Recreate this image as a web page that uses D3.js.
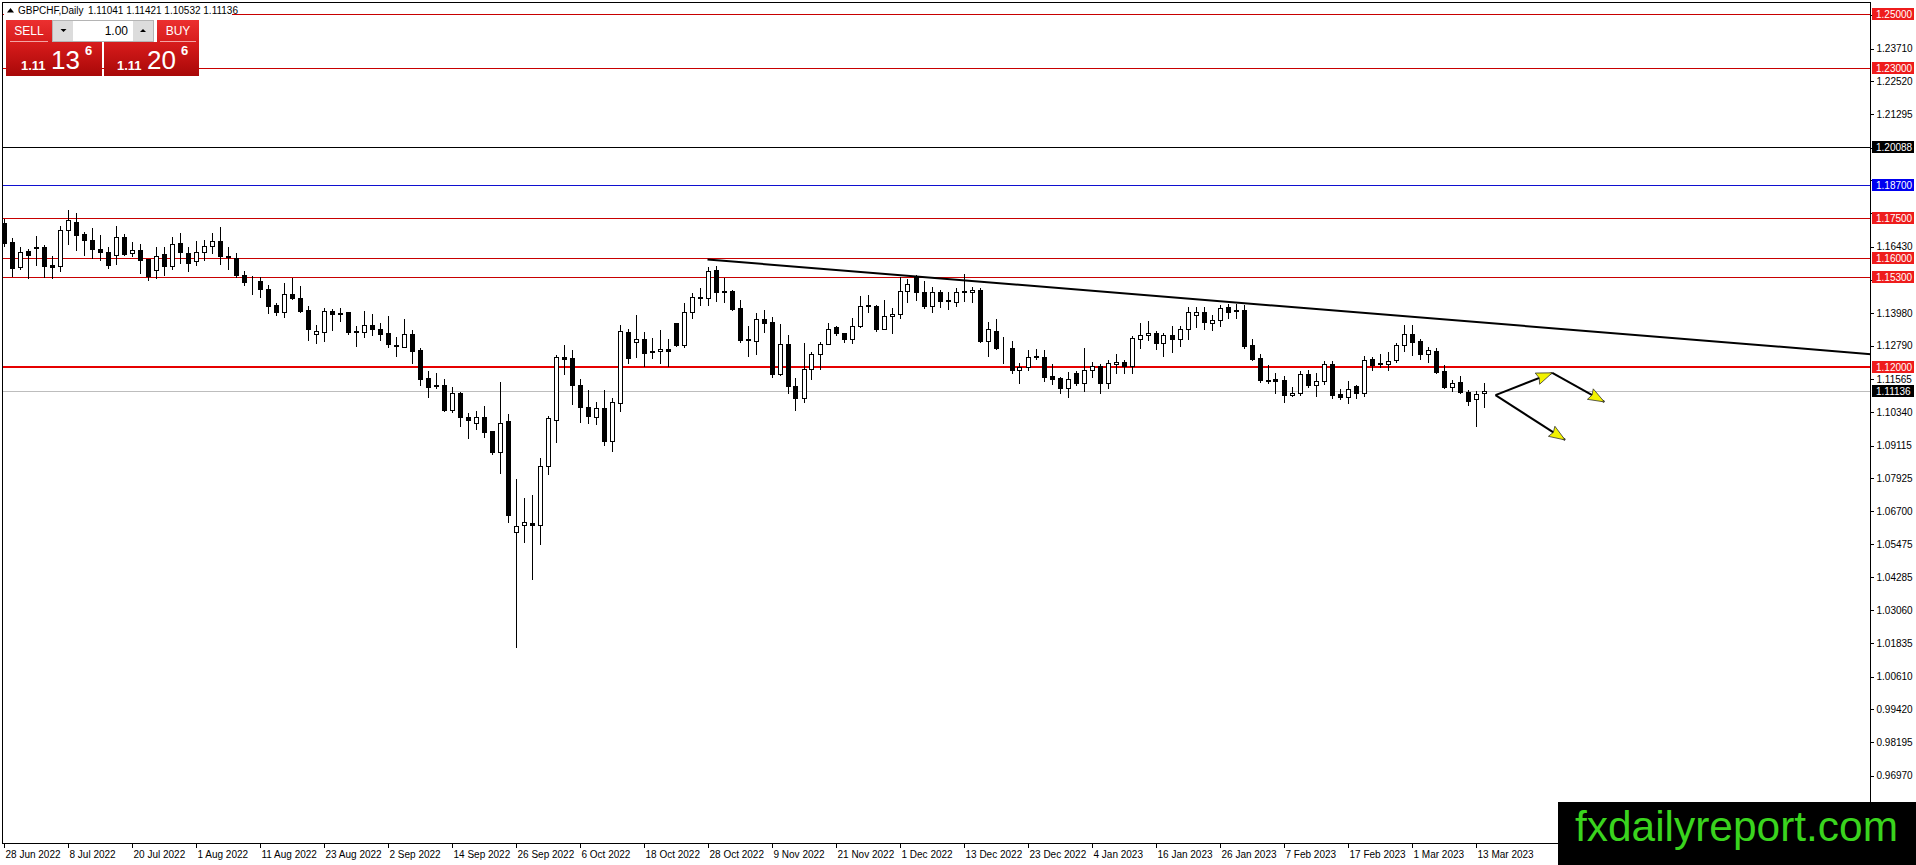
<!DOCTYPE html>
<html>
<head>
<meta charset="utf-8">
<script src="https://cdn.jsdelivr.net/npm/d3@7"></script>
<style>
  body { margin: 0; background: #fff; overflow: hidden; }
  svg { display: block; }
  text { font-family: "Liberation Sans", Arial, sans-serif; }
</style>
</head>
<body>
<svg id="chart" width="1916" height="865"></svg>
<script>
// GBPCHF daily candles, 28 Jun 2022 .. 14 Mar 2023
var opens = [1.1729,1.1660,1.1568,1.1626,1.1637,1.1640,1.1575,1.1572,1.1705,1.1735,
1.1690,1.1669,1.1636,1.1625,1.1613,1.1680,1.1618,1.1629,1.1597,1.1556,
1.1615,1.1572,1.1658,1.1621,1.1592,1.1625,1.1647,1.1665,1.1608,1.1603,
1.1540,1.1518,1.1516,1.1489,1.1430,1.1404,1.1470,1.1453,1.1410,1.1320,
1.1330,1.1405,1.1398,1.1402,1.1330,1.1328,1.1355,1.1342,1.1325,1.1280,
1.1275,1.1322,1.1263,1.1160,1.1136,1.1133,1.1044,1.1104,1.1015,1.0996,
1.1016,1.0964,1.0888,1.1000,1.0595,1.0621,1.0628,1.0621,1.0838,1.1007,
1.1239,1.1232,1.1136,1.1052,1.1015,1.1048,1.0930,1.1069,1.1330,1.1293,
1.1303,1.1259,1.1258,1.1265,1.1362,1.1282,1.1401,1.1453,1.1453,1.1557,
1.1477,1.1480,1.1416,1.1302,1.1295,1.1376,1.1366,1.1176,1.1284,1.1131,
1.1088,1.1193,1.1247,1.1284,1.1347,1.1325,1.1304,1.1353,1.1428,1.1425,
1.1341,1.1387,1.1394,1.1479,1.1533,1.1475,1.1426,1.1475,1.1444,1.1441,
1.1480,1.1475,1.1484,1.1297,1.1333,1.1272,1.1269,1.1188,1.1199,1.1238,
1.1239,1.1167,1.1160,1.1122,1.1177,1.1140,1.1191,1.1204,1.1142,1.1210,
1.1218,1.1204,1.1302,1.1317,1.1324,1.1287,1.1317,1.1304,1.1342,1.1390,
1.1401,1.1363,1.1374,1.1421,1.1405,1.1411,1.1283,1.1234,1.1152,1.1155,
1.1151,1.1098,1.1106,1.1173,1.1135,1.1150,1.1210,1.1102,1.1090,1.1131,
1.1106,1.1228,1.1215,1.1212,1.1225,1.1283,1.1320,1.1295,1.1249,1.1261,
1.1184,1.1126,1.1146,1.1110,1.1081,1.11041];

var highs = [1.1744,1.1676,1.1643,1.1633,1.1683,1.1648,1.1607,1.1719,1.1777,1.1766,
1.1697,1.1710,1.1685,1.1640,1.1719,1.1689,1.1662,1.1652,1.1599,1.1643,
1.1640,1.1678,1.1692,1.1640,1.1664,1.1667,1.1695,1.1717,1.1640,1.1621,
1.1554,1.1535,1.1532,1.1501,1.1437,1.1511,1.1527,1.1500,1.1425,1.1355,
1.1416,1.1414,1.1416,1.1403,1.1351,1.1406,1.1395,1.1361,1.1388,1.1309,
1.1376,1.1336,1.1269,1.1187,1.1177,1.1158,1.1125,1.1107,1.1030,1.1038,
1.1057,1.0965,1.1146,1.1027,1.0790,1.0717,1.0729,1.0864,1.1020,1.1245,
1.1281,1.1263,1.1156,1.1115,1.1070,1.1115,1.1085,1.1355,1.1339,1.1391,
1.1330,1.1306,1.1336,1.1302,1.1364,1.1437,1.1471,1.1490,1.1567,1.1572,
1.1526,1.1483,1.1447,1.1351,1.1398,1.1410,1.1385,1.1358,1.1318,1.1161,
1.1287,1.1255,1.1291,1.1363,1.1352,1.1327,1.1379,1.1461,1.1465,1.1428,
1.1447,1.1418,1.1533,1.1524,1.1539,1.1518,1.1496,1.1484,1.1475,1.1490,
1.1542,1.1496,1.1490,1.1365,1.1376,1.1312,1.1296,1.1214,1.1263,1.1265,
1.1263,1.1210,1.1164,1.1183,1.1185,1.1269,1.1220,1.1210,1.1226,1.1250,
1.1226,1.1314,1.1361,1.1368,1.1334,1.1326,1.1351,1.1351,1.1420,1.1422,
1.1422,1.1390,1.1427,1.1431,1.1431,1.1427,1.1304,1.1249,1.1206,1.1178,
1.1169,1.1126,1.1185,1.1190,1.1179,1.1221,1.1222,1.1120,1.1149,1.1133,
1.1242,1.1237,1.1249,1.1255,1.1288,1.1356,1.1356,1.1304,1.1274,1.1270,
1.1206,1.1153,1.1166,1.1114,1.1112,1.11421];

var lows = [1.1646,1.1535,1.1560,1.1526,1.1576,1.1532,1.1529,1.1554,1.1654,1.1631,
1.1614,1.1600,1.1594,1.1566,1.1578,1.1611,1.1607,1.1548,1.1521,1.1528,
1.1538,1.1560,1.1584,1.1554,1.1576,1.1594,1.1619,1.1578,1.1560,1.1532,
1.1501,1.1468,1.1458,1.1398,1.1392,1.1386,1.1449,1.1404,1.1299,1.1290,
1.1296,1.1336,1.1371,1.1322,1.1279,1.1309,1.1318,1.1299,1.1275,1.1242,
1.1275,1.1214,1.1136,1.1091,1.1122,1.1038,1.1036,1.0984,1.0940,1.0971,
1.0944,1.0882,1.0809,1.0631,1.0171,1.0555,1.0419,1.0551,1.0805,1.0925,
1.1173,1.1066,1.0999,1.0995,1.0989,1.0915,1.0892,1.1039,1.1214,1.1238,
1.1204,1.1232,1.1216,1.1204,1.1279,1.1275,1.1379,1.1428,1.1428,1.1444,
1.1438,1.1410,1.1293,1.1240,1.1250,1.1328,1.1164,1.1171,1.1106,1.1044,
1.1072,1.1155,1.1194,1.1284,1.1319,1.1293,1.1290,1.1346,1.1404,1.1331,
1.1339,1.1324,1.1379,1.1441,1.1447,1.1416,1.1404,1.1422,1.1412,1.1425,
1.1444,1.1441,1.1293,1.1242,1.1268,1.1216,1.1177,1.1142,1.1189,1.1228,
1.1150,1.1138,1.1103,1.1091,1.1134,1.1113,1.1162,1.1103,1.1122,1.1177,
1.1179,1.1177,1.1270,1.1299,1.1268,1.1242,1.1257,1.1277,1.1304,1.1349,
1.1342,1.1337,1.1353,1.1382,1.1382,1.1270,1.1227,1.1147,1.1142,1.1104,
1.1071,1.1093,1.1099,1.1126,1.1093,1.1139,1.1087,1.1081,1.1069,1.1087,
1.1093,1.1191,1.1200,1.1190,1.1218,1.1261,1.1245,1.1231,1.1218,1.1178,
1.1124,1.1112,1.1104,1.1059,1.0983,1.10532];

var closes = [1.1658,1.1566,1.1625,1.1613,1.1640,1.1572,1.1568,1.1705,1.1741,1.1686,
1.1668,1.1636,1.1624,1.1576,1.1680,1.1615,1.1629,1.1595,1.1535,1.1609,
1.1572,1.1654,1.1625,1.1584,1.1625,1.1647,1.1665,1.1607,1.1605,1.1538,
1.1513,1.1516,1.1486,1.1425,1.1403,1.1469,1.1454,1.1407,1.1340,1.1333,
1.1405,1.1394,1.1394,1.1328,1.1331,1.1355,1.1341,1.1323,1.1286,1.1279,
1.1322,1.1260,1.1157,1.1128,1.1131,1.1042,1.1103,1.1015,1.1004,1.1016,
1.0962,1.0887,1.0996,1.0655,1.0616,1.0632,1.0621,1.0838,1.1011,1.1239,
1.1231,1.1136,1.1052,1.1021,1.1048,1.0929,1.1070,1.1331,1.1234,1.1302,
1.1253,1.1255,1.1266,1.1261,1.1282,1.1403,1.1457,1.1457,1.1555,1.1477,
1.1479,1.1413,1.1299,1.1298,1.1376,1.1363,1.1176,1.1284,1.1131,1.1088,
1.1193,1.1247,1.1284,1.1342,1.1324,1.1304,1.1353,1.1423,1.1423,1.1340,
1.1388,1.1395,1.1480,1.1506,1.1475,1.1426,1.1475,1.1444,1.1447,1.1477,
1.1476,1.1484,1.1297,1.1339,1.1271,1.1269,1.1188,1.1199,1.1239,1.1240,
1.1164,1.1157,1.1122,1.1155,1.1140,1.1191,1.1205,1.1142,1.1214,1.1217,
1.1204,1.1306,1.1317,1.1325,1.1287,1.1317,1.1304,1.1342,1.1401,1.1401,
1.1367,1.1374,1.1418,1.1403,1.1411,1.1277,1.1231,1.1151,1.1150,1.1150,
1.1098,1.1106,1.1173,1.1133,1.1150,1.1210,1.1099,1.1090,1.1119,1.1106,
1.1227,1.1209,1.1211,1.1223,1.1283,1.1320,1.1292,1.1249,1.1264,1.1182,
1.1126,1.1142,1.1108,1.1077,1.1102,1.11136];

// time axis labels (every 8th bar)
var dateBars = [0,8,16,24,32,40,48,56,64,72,80,88,96,104,112,120,128,136,144,152,160,168,176,184];
var dateLabels = ["28 Jun 2022","8 Jul 2022","20 Jul 2022","1 Aug 2022","11 Aug 2022","23 Aug 2022",
  "2 Sep 2022","14 Sep 2022","26 Sep 2022","6 Oct 2022","18 Oct 2022","28 Oct 2022","9 Nov 2022",
  "21 Nov 2022","1 Dec 2022","13 Dec 2022","23 Dec 2022","4 Jan 2023","16 Jan 2023","26 Jan 2023",
  "7 Feb 2023","17 Feb 2023","1 Mar 2023","13 Mar 2023"];

// price scale ticks
var priceTicks = [1.24935,1.23710,1.22520,1.21295,1.20070,1.18880,1.17655,1.16430,1.15205,1.13980,
  1.12790,1.11565,1.10340,1.09115,1.07925,1.06700,1.05475,1.04285,1.03060,1.01835,1.00610,
  0.99420,0.98195,0.96970];

// horizontal levels drawn on the chart
var levelPrices = [1.25000, 1.23000, 1.20088, 1.18700, 1.17500, 1.16000, 1.15300, 1.12000];
var levelKinds  = ["red", "red", "black", "blue", "red", "red", "red", "redThick"];

// trend line (bar index, price) and the two projection arrows
var trendBars = [88, 233.3];
var trendPrices = [1.1596, 1.1248];
var arrowBars = [[186.5, 193.6], [193.6, 200.1], [186.5, 195.2]];
var arrowPrices = [[1.1097, 1.1179], [1.1179, 1.1072], [1.1097, 1.0932]];

var bid = 1.11136, ask = 1.11206, lot = "1.00";

var svg = d3.select("#chart"),
    plotL = 2.5, plotT = 2.5, plotR = 1870.5, plotB = 843.5;

var x = d3.scaleLinear().domain([0, 185]).range([3.5, 3.5 + 185 * 8]);
var y = d3.scaleLinear().domain([0.9697, 1.25]).range([775.7, 13.7]);

function px(v) { return Math.round(v) + 0.5; }

var defs = svg.append("defs");
defs.append("clipPath").attr("id", "plotClip")
  .append("rect").attr("x", plotL).attr("y", plotT).attr("width", plotR - plotL).attr("height", plotB - plotT);
var grad = defs.append("linearGradient").attr("id", "redGrad")
  .attr("gradientUnits", "userSpaceOnUse").attr("x1", 0).attr("y1", 20).attr("x2", 0).attr("y2", 76);
grad.append("stop").attr("offset", "0").attr("stop-color", "#ec3030");
grad.append("stop").attr("offset", "0.45").attr("stop-color", "#d41a1a");
grad.append("stop").attr("offset", "1").attr("stop-color", "#a80808");

var plot = svg.append("g").attr("clip-path", "url(#plotClip)");

// level lines
var levelColor = { red: "#c80000", redThick: "#e60000", black: "#000", blue: "#1010d0" };
plot.selectAll(".level").data(levelPrices).enter().append("line")
  .attr("class", "level")
  .attr("x1", plotL).attr("x2", plotR)
  .attr("y1", function (d, i) { return levelKinds[i] == "redThick" ? Math.round(y(d)) : px(y(d)); })
  .attr("y2", function (d, i) { return levelKinds[i] == "redThick" ? Math.round(y(d)) : px(y(d)); })
  .attr("stroke", function (d, i) { return levelColor[levelKinds[i]]; })
  .attr("stroke-width", function (d, i) { return levelKinds[i] == "redThick" ? 2 : 1; })
  .attr("shape-rendering", "crispEdges");

// bid line
plot.append("line")
  .attr("x1", plotL).attr("x2", plotR).attr("y1", px(y(bid))).attr("y2", px(y(bid)))
  .attr("stroke", "#bdbdbd").attr("stroke-width", 1).attr("shape-rendering", "crispEdges");

// candles
var candle = plot.selectAll(".candle").data(d3.range(opens.length)).enter().append("g")
  .attr("class", "candle").attr("shape-rendering", "crispEdges");

candle.append("line")
  .attr("x1", function (i) { return px(x(i)); })
  .attr("x2", function (i) { return px(x(i)); })
  .attr("y1", function (i) { return Math.round(y(highs[i])); })
  .attr("y2", function (i) { return Math.round(y(lows[i])) + 1; })
  .attr("stroke", "#000").attr("stroke-width", 1);

candle.append("rect")
  .attr("x", function (i) { return px(x(i)) - 2; })
  .attr("width", 4)
  .attr("y", function (i) { return px(y(Math.max(opens[i], closes[i]))); })
  .attr("height", function (i) {
    return Math.round(y(Math.min(opens[i], closes[i]))) - Math.round(y(Math.max(opens[i], closes[i])));
  })
  .attr("fill", function (i) { return closes[i] < opens[i] ? "#000" : "#fff"; })
  .attr("stroke", "#000").attr("stroke-width", 1);

// trend line
var tSlope = (trendPrices[1] - trendPrices[0]) / (trendBars[1] - trendBars[0]);
plot.append("line")
  .attr("x1", x(trendBars[0])).attr("y1", y(trendPrices[0]))
  .attr("x2", x(trendBars[1] + 2)).attr("y2", y(trendPrices[1] + 2 * tSlope))
  .attr("stroke", "#000").attr("stroke-width", 2);

// arrows
arrowBars.forEach(function (b, k) {
  var x0 = x(b[0]), y0 = y(arrowPrices[k][0]), x1 = x(b[1]), y1 = y(arrowPrices[k][1]);
  var dx = x1 - x0, dy = y1 - y0, len = Math.sqrt(dx * dx + dy * dy), ux = dx / len, uy = dy / len;
  plot.append("line").attr("x1", x0).attr("y1", y0).attr("x2", x1).attr("y2", y1)
    .attr("stroke", "#000").attr("stroke-width", 2);
  var bx = x1 - ux * 16, by = y1 - uy * 16;
  var pts = [[x1, y1], [bx - uy * 6, by + ux * 6], [bx + ux * 2, by + uy * 2], [bx + uy * 6, by - ux * 6]];
  plot.append("polygon").attr("points", pts.map(function (p) { return p.join(","); }).join(" "))
    .attr("fill", "#f2f200").attr("stroke", "#333").attr("stroke-width", 0.8);
});

// frame
svg.append("path")
  .attr("d", "M" + plotL + "," + plotB + "V" + plotT + "H" + plotR + "V" + plotB + "H" + plotL)
  .attr("fill", "none").attr("stroke", "#000").attr("stroke-width", 1).attr("shape-rendering", "crispEdges");

// price axis; tick texts that sit under a level tag are left out
var tagPrices = levelPrices.concat([bid]);
var yAxis = svg.append("g").attr("transform", "translate(" + plotR + ",0)")
  .call(d3.axisRight(y).tickValues(priceTicks).tickSize(3).tickPadding(3)
    .tickFormat(function (d) {
      var hidden = tagPrices.some(function (p) { return Math.abs(y(p) - y(d)) < 11; });
      return hidden ? "" : d3.format(".5f")(d);
    }));
yAxis.select(".domain").remove();
yAxis.selectAll("text").attr("font-family", "Liberation Sans, Arial, sans-serif").attr("font-size", 10).attr("fill", "#000");
yAxis.selectAll("line").attr("shape-rendering", "crispEdges");

// time axis
var xAxis = svg.append("g").attr("transform", "translate(0," + plotB + ")")
  .call(d3.axisBottom(x).tickValues(dateBars).tickFormat(function (d, i) { return dateLabels[i]; })
    .tickSize(4).tickPadding(3));
xAxis.select(".domain").remove();
xAxis.selectAll(".tick").attr("transform", function (d) { return "translate(" + px(x(d)) + ",0)"; });
xAxis.selectAll("text").attr("text-anchor", "start").attr("x", 1)
  .attr("font-family", "Liberation Sans, Arial, sans-serif").attr("font-size", 10).attr("fill", "#000");
xAxis.selectAll("line").attr("shape-rendering", "crispEdges");

// price labels on the right scale
var labelFill = { red: "#ee1c1c", redThick: "#ee1c1c", black: "#000", blue: "#0000f0" };
var tags = levelPrices.map(function (p, i) { return { p: p, c: labelFill[levelKinds[i]] }; })
  .concat([{ p: bid, c: "#000" }]);
var tag = svg.selectAll(".tag").data(tags).enter().append("g").attr("class", "tag")
  .attr("transform", function (d) { return "translate(1872," + Math.round(y(d.p)) + ")"; });
tag.append("rect").attr("x", 0).attr("y", -6).attr("width", 42).attr("height", 12)
  .attr("fill", function (d) { return d.c; });
tag.append("text").attr("x", 4).attr("y", 0).attr("dy", "0.35em").attr("font-size", 10).attr("fill", "#fff")
  .text(function (d) { return d3.format(".5f")(d.p); });

// header
var last = opens.length - 1;
svg.append("rect").attr("x", 4).attr("y", 4).attr("width", 228).attr("height", 14).attr("fill", "#fff");
svg.append("path").attr("d", "M7,12.5L10.5,8L14,12.5Z").attr("fill", "#000");
svg.append("text").attr("x", 18).attr("y", 14).attr("font-size", 10).text("GBPCHF,Daily");
svg.append("text").attr("x", 88).attr("y", 14).attr("font-size", 10)
  .text([opens[last], highs[last], lows[last], closes[last]].map(d3.format(".5f")).join(" "));

// one-click trading panel
var panel = svg.append("g");
panel.append("path").attr("d", "M6,20H52V42H102V76H6Z").attr("fill", "url(#redGrad)");
panel.append("path").attr("d", "M157,20H199V76H104V42H157Z").attr("fill", "url(#redGrad)");
panel.append("line").attr("x1", 10).attr("x2", 48).attr("y1", 41.5).attr("y2", 41.5).attr("stroke", "#f4a4a4");
panel.append("line").attr("x1", 160).attr("x2", 196).attr("y1", 41.5).attr("y2", 41.5).attr("stroke", "#f4a4a4");
panel.append("rect").attr("x", 52.5).attr("y", 20.5).attr("width", 101).attr("height", 21)
  .attr("fill", "#fff").attr("stroke", "#b4b4b4");
panel.append("rect").attr("x", 53).attr("y", 21).attr("width", 20).attr("height", 20).attr("fill", "#dcdcdc");
panel.append("rect").attr("x", 133).attr("y", 21).attr("width", 20).attr("height", 20).attr("fill", "#dcdcdc");
panel.append("path").attr("d", "M60.5,29H66.5L63.5,32Z").attr("fill", "#000");
panel.append("path").attr("d", "M140,32H146L143,29Z").attr("fill", "#000");
panel.append("text").attr("x", 128).attr("y", 35).attr("text-anchor", "end").attr("font-size", 12).text(lot);
panel.append("text").attr("x", 29).attr("y", 35).attr("text-anchor", "middle").attr("font-size", 12)
  .attr("fill", "#fff").text("SELL");
panel.append("text").attr("x", 178).attr("y", 35).attr("text-anchor", "middle").attr("font-size", 12)
  .attr("fill", "#fff").text("BUY");

function quote(price, x0) {
  var s = d3.format(".5f")(price);
  panel.append("text").attr("x", x0).attr("y", 70).attr("font-size", 13).attr("font-weight", "bold")
    .attr("fill", "#fff").text(s.slice(0, 4));
  panel.append("text").attr("x", x0 + 30).attr("y", 68.5).attr("font-size", 26)
    .attr("fill", "#fff").text(s.slice(4, 6));
  panel.append("text").attr("x", x0 + 64).attr("y", 55).attr("font-size", 13).attr("font-weight", "bold")
    .attr("fill", "#fff").text(s.slice(6));
}
quote(bid, 21);
quote(ask, 117);

// watermark
svg.append("rect").attr("x", 1558).attr("y", 802).attr("width", 358).attr("height", 63).attr("fill", "#000");
svg.append("text").attr("x", 1575).attr("y", 841).attr("font-size", 42).attr("fill", "#3ad41e")
  .attr("textLength", 323).attr("lengthAdjust", "spacingAndGlyphs").text("fxdailyreport.com");
</script>
</body>
</html>
